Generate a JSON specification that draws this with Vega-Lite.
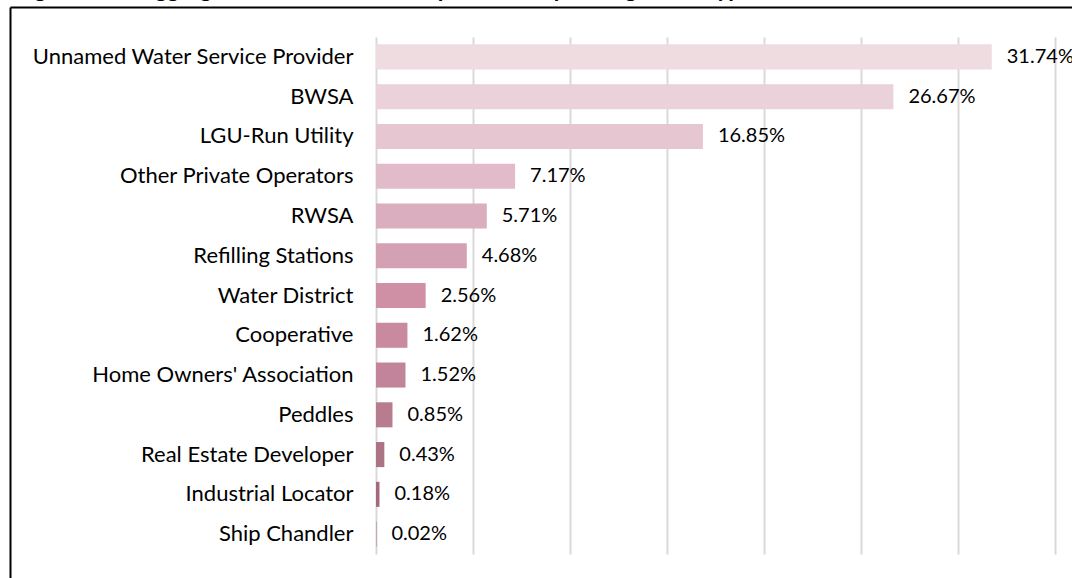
{
  "$schema": "https://vega.github.io/schema/vega-lite/v6.json",
  "width": 679,
  "height": 517,
  "autosize": {"type": "none"},
  "padding": {"left": 376, "top": 37, "right": 17, "bottom": 24},
  "background": "white",
  "title": {
    "text": "Figure 5. Disaggregation of water service providers by management type, 2022",
    "anchor": "start",
    "frame": "bounds",
    "font": "Lato",
    "fontSize": 23,
    "fontWeight": "bold",
    "color": "#000000",
    "offset": 0,
    "dx": 6,
    "dy": -5
  },
  "config": {"view": {"stroke": null}, "font": "Lato"},
  "datasets": {
    "shares": [
      {"type": "Unnamed Water Service Provider", "share": 0.3174},
      {"type": "BWSA", "share": 0.2667},
      {"type": "LGU-Run Utility", "share": 0.1685},
      {"type": "Other Private Operators", "share": 0.0717},
      {"type": "RWSA", "share": 0.0571},
      {"type": "Refilling Stations", "share": 0.0468},
      {"type": "Water District", "share": 0.0256},
      {"type": "Cooperative", "share": 0.0162},
      {"type": "Home Owners' Association", "share": 0.0152},
      {"type": "Peddles", "share": 0.0085},
      {"type": "Real Estate Developer", "share": 0.0043},
      {"type": "Industrial Locator", "share": 0.0018},
      {"type": "Ship Chandler", "share": 0.0002}
    ]
  },
  "layer": [
    {
      "data": {"name": "shares"},
      "encoding": {
        "y": {
          "field": "type",
          "type": "nominal",
          "sort": null,
          "scale": {"paddingInner": 0.37, "paddingOuter": 0.185},
          "axis": {
            "title": null,
            "ticks": false,
            "domain": false,
            "grid": false,
            "labelFont": "Lato",
            "labelFontSize": 22,
            "labelColor": "#000000",
            "labelPadding": 23,
            "labelLimit": 500
          }
        },
        "x": {
          "field": "share",
          "type": "quantitative",
          "scale": {"domain": [0, 0.35], "nice": false},
          "axis": {
            "title": null,
            "labels": false,
            "ticks": false,
            "domain": false,
            "grid": true,
            "gridColor": "#D9D9D9",
            "gridWidth": 2,
            "values": [0, 0.05, 0.1, 0.15, 0.2, 0.25, 0.3, 0.35]
          }
        }
      },
      "layer": [
        {
          "mark": {"type": "bar"},
          "encoding": {
            "color": {
              "field": "type",
              "type": "nominal",
              "legend": null,
              "scale": {
                "domain": ["Unnamed Water Service Provider", "BWSA", "LGU-Run Utility", "Other Private Operators", "RWSA", "Refilling Stations", "Water District", "Cooperative", "Home Owners' Association", "Peddles", "Real Estate Developer", "Industrial Locator", "Ship Chandler"],
                "range": ["#EEDCE1", "#EAD1DA", "#E5C6D1", "#E1BBC9", "#DAAEBE", "#D4A0B3", "#CF90A5", "#C98A9F", "#C2849A", "#B87C8F", "#AC7384", "#A46A7C", "#9C6474"]
              }
            }
          }
        },
        {
          "mark": {"type": "text", "align": "left", "baseline": "middle", "dx": 15, "font": "Lato", "fontSize": 20, "color": "#000000"},
          "encoding": {
            "text": {"field": "share", "type": "quantitative", "format": ".2%"}
          }
        }
      ]
    },
    {
      "data": {"values": [{"edge": "frame"}]},
      "encoding": {
        "x": {"datum": -0.1884, "type": "quantitative"},
        "y": {"datum": 1.057, "type": "quantitative", "scale": {"domain": [0, 1], "nice": false}, "axis": null}
      },
      "layer": [
        {
          "mark": {"type": "rule", "color": "#000000", "strokeWidth": 2},
          "encoding": {"y2": {"datum": -0.1}}
        },
        {
          "mark": {"type": "rule", "color": "#000000", "strokeWidth": 2},
          "encoding": {"x2": {"datum": 0.3603}}
        }
      ]
    }
  ],
  "resolve": {"scale": {"y": "independent"}}
}
